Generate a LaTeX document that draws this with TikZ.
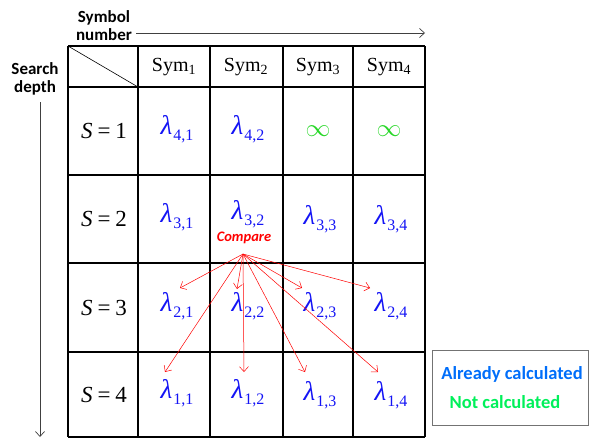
\documentclass[tikz,border=0pt]{standalone}
\usepackage{fontspec}
\setmainfont{Liberation Serif}
\newfontfamily\calib{Carlito}
\usetikzlibrary{positioning,arrows.meta}

\definecolor{lamblue}{RGB}{20,20,245}
\definecolor{infgreen}{RGB}{40,215,40}
\definecolor{legblue}{RGB}{0,110,250}
\definecolor{leggreen}{RGB}{0,240,90}

% lambda with a roman subscript, Times-like
\newcommand{\lamb}[1]{\textit{λ}\kern1pt\raisebox{-6pt}{\fontsize{16}{16}\selectfont #1}}
\newcommand{\depthS}[1]{\textit{S}\kern5pt=\kern5pt#1}

\begin{document}
\begin{tikzpicture}[
  x=1pt, y=-1pt, >={Straight Barb[length=5pt,width=9pt]},
  gridline/.style={line width=2.8pt},
  lam/.style={text=lamblue, font=\fontsize{27}{29}\selectfont},
  inf/.style={text=infgreen, font=\fontsize{25}{27}\selectfont},
  depth/.style={font=\fontsize{23}{25}\selectfont},
  sym/.style={font=\fontsize{20}{22}\selectfont},
  lbl/.style={font=\calib\bfseries\fontsize{17}{18}\selectfont, align=center},
  legtxt/.style={font=\calib\bfseries\fontsize{18.5}{20}\selectfont},
  axis/.style={->, draw=black!75, line width=0.7pt},
  cmpArr/.style={->, draw=red, line width=0.5pt},
]
\useasboundingbox (0,0) rectangle (589,439);

% table grid
\foreach \x in {68,138,210,283,353,425}
  \draw[gridline] (\x,46) -- (\x,437);
\foreach \y in {46,87,175,263,352,437}
  \draw[gridline] (68,\y) -- (425,\y);
\draw[line width=0.6pt] (68,46) -- (138,87);

% axis labels
\node[lbl] (symnum) at (104,26) {Symbol\\number};
\node[lbl] (sdepth) at (35,79) {Search\\depth};
\coordinate (hx0) at (136,33);
\coordinate (hx1) at (425,33);
\coordinate (vy0) at (40,102);
\coordinate (vy1) at (40,437);
\draw[axis] (hx0) -- (hx1);
\draw[axis] (vy0) -- (vy1);

% header
\node[sym] (sym1) at (174,67) {Sym\textsubscript{1}};
\node[sym] (sym2) at (246,67) {Sym\textsubscript{2}};
\node[sym] (sym3) at (318,67) {Sym\textsubscript{3}};
\node[sym] (sym4) at (389,67) {Sym\textsubscript{4}};

\node[depth] (s1) at (104,131) {\depthS{1}};
\node[depth] (s2) at (104,219) {\depthS{2}};
\node[depth] (s3) at (104,308) {\depthS{3}};
\node[depth] (s4) at (104,395) {\depthS{4}};

% cells
\node[lam] (l41) at (177,129) {\lamb{4,1}};
\node[lam] (l42) at (248,129) {\lamb{4,2}};
\node[inf] (i43) at (318,131) {$\infty$};
\node[inf] (i44) at (389,131) {$\infty$};

\node[lam] (l31) at (177,217) {\lamb{3,1}};
\node[lam] (l32) at (248,214) {\lamb{3,2}};
\node[lam] (l33) at (320,219) {\lamb{3,3}};
\node[lam] (l34) at (391,219) {\lamb{3,4}};

\node[lam] (l21) at (177,306) {\lamb{2,1}};
\node[lam] (l22) at (248,306) {\lamb{2,2}};
\node[lam] (l23) at (320,306) {\lamb{2,3}};
\node[lam] (l24) at (391,306) {\lamb{2,4}};

\node[lam] (l11) at (177,393) {\lamb{1,1}};
\node[lam] (l12) at (248,393) {\lamb{1,2}};
\node[lam] (l13) at (320,395) {\lamb{1,3}};
\node[lam] (l14) at (391,395) {\lamb{1,4}};

\node[font=\calib\bfseries\itshape\fontsize{14.5}{15}\selectfont, text=red] (cmp) at (244,238) {Compare};

% comparison arrows
\coordinate (src) at (243,254);
\coordinate (t21) at (180,288);
\coordinate (t22) at (237,289);
\coordinate (t23) at (302,288);
\coordinate (t24) at (370,288);
\coordinate (t11) at (165,372);
\coordinate (t12) at (244,372);
\coordinate (t13) at (305,372);
\coordinate (t14) at (378,372);
\foreach \t in {t21,t22,t23,t24,t11,t12,t13,t14}
  \draw[cmpArr] (src) -- (\t);

% legend
\node[draw=black!55, line width=0.6pt, minimum width=156pt, minimum height=75pt,
      inner sep=0pt] (legend) at (510,387.5) {};
\node[legtxt, text=legblue] (done) at (512,374) {Already calculated};
\node[legtxt, text=leggreen] (notdone) at (505,402) {Not calculated};
\end{tikzpicture}
\end{document}
